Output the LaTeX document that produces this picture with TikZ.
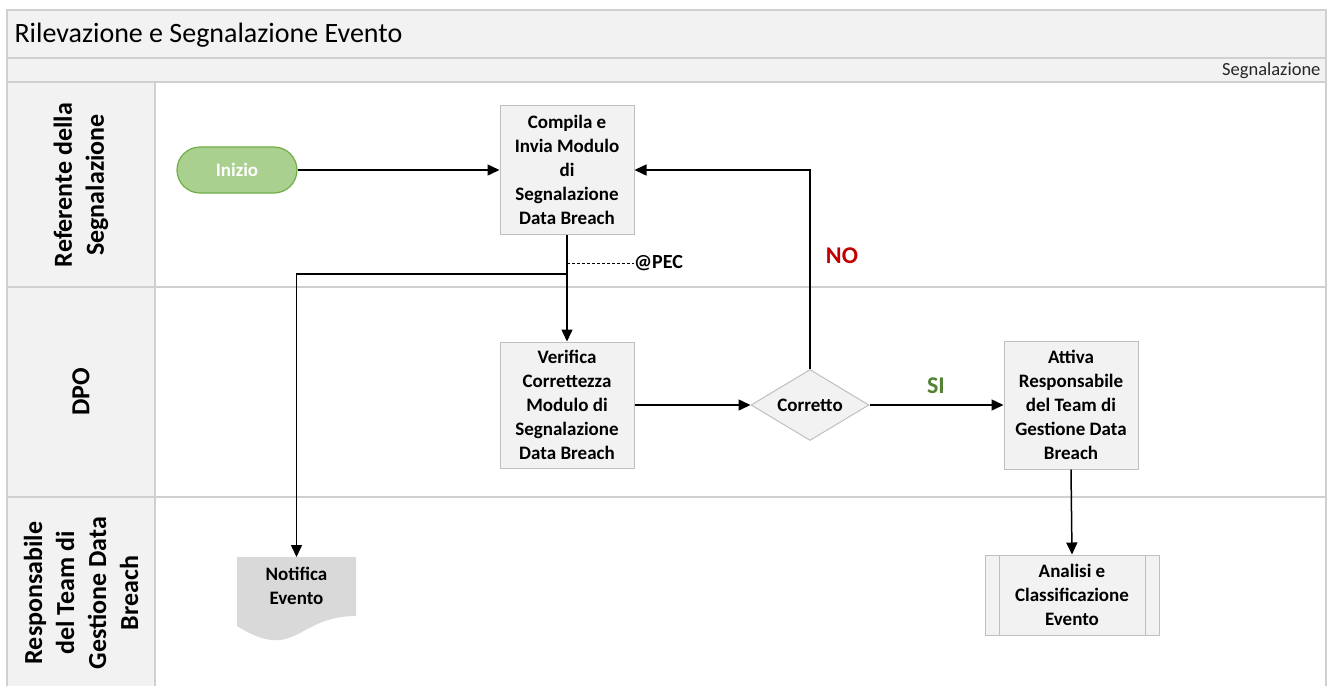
\documentclass[tikz,border=0pt]{standalone}
\usepackage{fontspec}
\setmainfont{Carlito}
\usetikzlibrary{arrows.meta,shapes.geometric}
\definecolor{hdr}{HTML}{F2F2F2}
\definecolor{grid}{HTML}{D0D0D0}
\definecolor{boxfill}{HTML}{F2F2F2}
\definecolor{boxline}{HTML}{BFBFBF}
\definecolor{startfill}{HTML}{A9D08E}
\definecolor{startline}{HTML}{70AD47}
\definecolor{docfill}{HTML}{D9D9D9}
\definecolor{nored}{HTML}{C00000}
\definecolor{sigreen}{HTML}{548235}
\tikzset{
  gridline/.style={draw=grid, line width=1.5pt},
  procbox/.style={draw=boxline, fill=boxfill, line width=1pt, minimum width=134pt, align=center,
     font=\fontsize{19}{24}\selectfont\bfseries, inner sep=0pt},
  lanelabel/.style={rotate=90, align=center, font=\fontsize{26}{32}\selectfont\bfseries},
  conn/.style={line width=1.5pt, -{Triangle[length=12pt,width=11pt]}},
  lbl/.style={font=\fontsize{20}{24}\selectfont\bfseries},
  biglbl/.style={font=\fontsize{24}{28}\selectfont\bfseries},
}
\begin{document}
\begin{tikzpicture}[x=1pt,y=-1pt]
\useasboundingbox (0,0) rectangle (1334,686);
% header & lanes
\fill[hdr] (7,10) rectangle (1326,82);
\fill[hdr] (7,82) rectangle (155,686);
\draw[gridline] (7,686) -- (7,10) -- (1326,10) -- (1326,686);
\draw[gridline] (7,58) -- (1326,58);
\draw[gridline] (7,82) -- (1326,82);
\draw[gridline] (7,287) -- (1326,287);
\draw[gridline] (7,497) -- (1326,497);
\draw[gridline] (155,82) -- (155,686);
\node[anchor=west, font=\fontsize{28}{32}\selectfont, text=black] (title) at (11,35) {Rilevazione e Segnalazione Evento};
\node[anchor=east, font=\fontsize{18.5}{22}\selectfont, text=black!85] (phase) at (1324,71) {Segnalazione};
\node[lanelabel] (lane1) at (81,185) {Referente della\\Segnalazione};
\node[lanelabel] (lane2) at (81,392) {DPO};
\node[lanelabel] (lane3) at (81,593) {Responsabile\\del Team di\\Gestione Data\\Breach};
% nodes
\node[draw=startline, fill=startfill, line width=1.2pt, rounded corners=23pt, minimum width=120pt, minimum height=46pt,
      text=white, font=\fontsize{19}{24}\selectfont\bfseries] (start) at (237,170) {Inizio};
\node[procbox, minimum height=129pt] (compila) at (567,170) {Compila e\\Invia Modulo\\di\\Segnalazione\\Data Breach};
\node[procbox, minimum height=126pt] (verifica) at (567,405) {Verifica\\Correttezza\\Modulo di\\Segnalazione\\Data Breach};
\node[diamond, draw=boxline, fill=boxfill, line width=1pt, aspect=1.66, inner sep=0pt, minimum width=118pt, minimum height=71pt,
      font=\fontsize{19}{24}\selectfont\bfseries] (corretto) at (810,405) {Corretto};
\node[procbox, minimum height=128pt] (attiva) at (1071,405) {Attiva\\Responsabile\\del Team di\\Gestione Data\\Breach};
\node[procbox, minimum width=174pt, minimum height=80pt] (analisi) at (1072,595) {Analisi e\\Classificazione\\Evento};
\draw[boxline, line width=1pt] ([xshift=15pt]analisi.north west) -- ([xshift=15pt]analisi.south west);
\draw[boxline, line width=1pt] ([xshift=-14pt]analisi.north east) -- ([xshift=-14pt]analisi.south east);
% document shape
\fill[docfill] (237,557) -- (356,557) -- (356,616) .. controls (296,616) and (296,663) .. (237,626) -- cycle;
\node[align=center, font=\fontsize{19}{24}\selectfont\bfseries, minimum width=119pt, minimum height=60pt, inner sep=0pt] (notifica) at (296.5,586) {Notifica\\Evento};
\coordinate (notiftop) at (296.5,557);
% connectors
\draw[conn] (start.east) -- (compila.west);
\draw[conn] (compila.south) -- (verifica.north);
\coordinate (split) at (567,274);
\coordinate (bend) at (296.5,274);
\draw[conn] (split) -- (bend) -- (notiftop);
\coordinate (pecstart) at (567,263);
\node[lbl, anchor=west, inner sep=0pt] (pec) at (634,263) {@PEC};
\draw[line width=1pt, densely dashed] (pecstart) -- (pec.west);
\draw[conn] (verifica.east) -- (corretto.west);
\draw[conn] (corretto.north) |- (compila.east);
\node[biglbl, text=nored] (no) at (842,256) {NO};
\draw[conn] (corretto.east) -- (attiva.west);
\node[biglbl, text=sigreen] (si) at (936,386) {SI};
\draw[conn] (attiva.south) -- (analisi.north);
\end{tikzpicture}
\end{document}
